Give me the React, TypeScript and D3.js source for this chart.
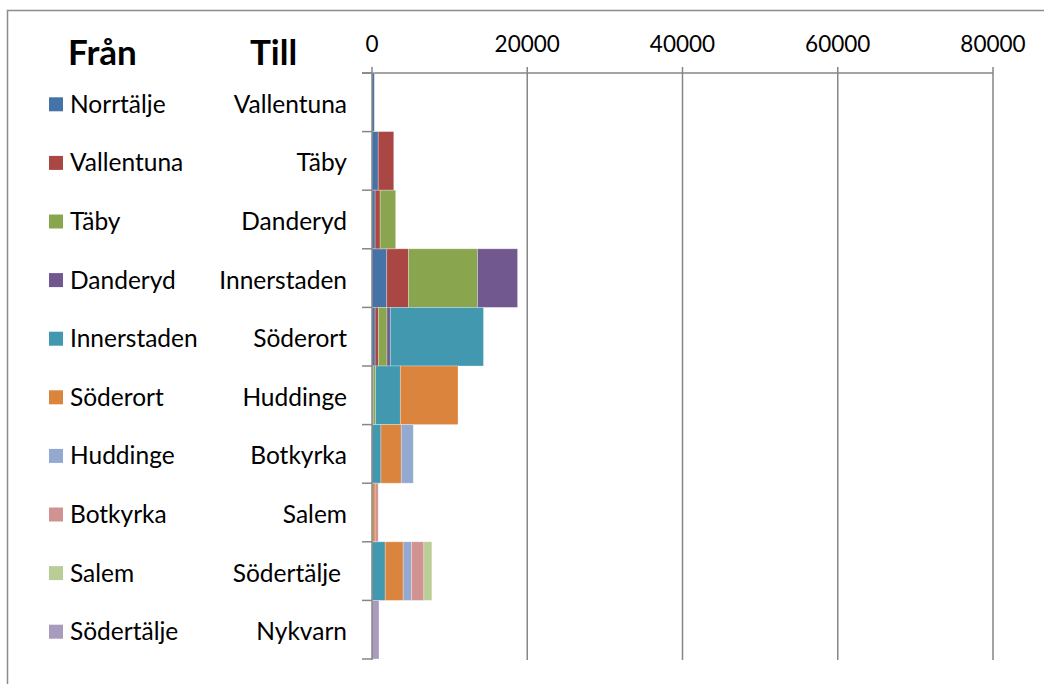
import React from 'react'
import * as d3 from 'd3'

// destinations (Till) – one bar each
const categories = ['Vallentuna', 'Täby', 'Danderyd', 'Innerstaden', 'Söderort', 'Huddinge', 'Botkyrka', 'Salem', 'Södertälje', 'Nykvarn']
// origins (Från) – stacked series
const seriesNames = ['Norrtälje', 'Vallentuna', 'Täby', 'Danderyd', 'Innerstaden', 'Söderort', 'Huddinge', 'Botkyrka', 'Salem', 'Södertälje']

const norrtalje = [300, 800, 400, 1900, 400, 100, 0, 0, 0, 0]
const vallentuna = [0, 2000, 650, 2800, 430, 50, 0, 0, 0, 0]
const taby = [0, 0, 2000, 8900, 1100, 300, 0, 0, 0, 0]
const danderyd = [0, 0, 0, 5150, 430, 0, 0, 0, 0, 0]
const innerstaden = [0, 0, 0, 0, 12000, 3200, 1150, 100, 1700, 0]
const soderort = [0, 0, 0, 0, 0, 7430, 2620, 300, 2320, 0]
const huddinge = [0, 0, 0, 0, 0, 0, 1550, 0, 1070, 0]
const botkyrka = [0, 0, 0, 0, 0, 0, 0, 400, 1590, 0]
const salem = [0, 0, 0, 0, 0, 0, 0, 0, 1030, 0]
const sodertalje = [0, 0, 0, 0, 0, 0, 0, 0, 0, 900]

const seriesValues = [norrtalje, vallentuna, taby, danderyd, innerstaden, soderort, huddinge, botkyrka, salem, sodertalje]
const xTicks = [0, 20000, 40000, 60000, 80000]

const colors = ['#4572A7', '#AA4643', '#89A54E', '#71588F', '#4198AF', '#DB843D', '#93A9CF', '#D19392', '#B9CD96', '#A99BBD']

export default function App() {
  const W = 1044, H = 684
  const font = 'Lato, "Open Sans", sans-serif'
  const x = d3.scaleLinear().domain([0, 80000]).range([372, 993])
  const y = d3.scaleBand().domain(categories).range([73, 659]).padding(0)

  // build table for d3.stack
  const table = categories.map((c, i) => {
    const row: any = { cat: c }
    seriesNames.forEach((s, j) => { row[s] = seriesValues[j][i] })
    return row
  })
  const stacked = d3.stack().keys(seriesNames)(table)
  const grid = '#868686'

  return (
    <svg width={W} height={H} style={{ position: 'absolute', left: 0, top: 0, background: '#fff' }}>
      <rect x={7.5} y={10.5} width={W + 10} height={H + 10} fill='white' stroke='#8c8c8c' strokeWidth={1.5} />

      {/* headers */}
      <text x={68} y={65} fontFamily={font} fontWeight='bold' fontSize={35} fill='#000'>Från</text>
      <text x={250} y={65} fontFamily={font} fontWeight='bold' fontSize={35} fill='#000'>Till</text>

      {/* gridlines + top axis */}
      {xTicks.map(t => (
        <g key={t}>
          <line x1={x(t)} x2={x(t)} y1={67} y2={t === 0 ? 73 : 660} stroke={grid} strokeWidth={1.5} />
          <text x={x(t)} y={52} textAnchor='middle' fontFamily={font} fontSize={22.5} fill='#000'>{t}</text>
        </g>
      ))}
      <line x1={x(0) - 10} x2={x(80000)} y1={73} y2={73} stroke={grid} strokeWidth={1.5} />

      {/* bars */}
      {stacked.map((layer, j) => (
        <g key={seriesNames[j]} fill={colors[j]}>
          {layer.map((d, i) => {
            const w = x(d[1]) - x(d[0])
            if (w <= 0) return null
            return <rect key={i} x={x(d[0])} y={y(categories[i])} width={w} height={y.bandwidth()}
              stroke='white' strokeOpacity={0.35} strokeWidth={0.8} />
          })}
        </g>
      ))}

      {/* category axis */}
      <line x1={x(0)} x2={x(0)} y1={73} y2={660} stroke={grid} strokeWidth={1.5} />
      {d3.range(categories.length + 1).map(i => {
        const yy = 73 + i * y.bandwidth()
        return <line key={i} x1={362} x2={x(0)} y1={yy} y2={yy} stroke={grid} strokeWidth={1.5} />
      })}

      {/* Till labels */}
      {categories.map((c, i) => (
        <text key={c} x={c === 'Södertälje' ? 341 : 347} y={y(c)! + y.bandwidth() / 2 + 2} dy='0.35em' textAnchor='end'
          fontFamily={font} fontSize={24.5} fill='#000'>{c}</text>
      ))}

      {/* Från legend */}
      {seriesNames.map((s, j) => {
        const cy = y(categories[j])! + y.bandwidth() / 2 + 2
        return (
          <g key={s}>
            <rect x={49} y={cy - 7} width={14} height={14} fill={colors[j]} />
            <text x={70} y={cy} dy='0.35em' fontFamily={font} fontSize={24.5} fill='#000'>{s}</text>
          </g>
        )
      })}
    </svg>
  )
}
